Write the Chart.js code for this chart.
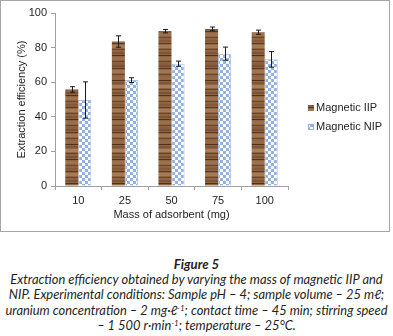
<!DOCTYPE html>
<html><head><meta charset="utf-8">
<script src="https://cdn.jsdelivr.net/npm/chart.js@4.4.0/dist/chart.umd.min.js"></script>
<style>
html,body{margin:0;padding:0;background:#fff;width:393px;height:336px;overflow:hidden}
#frame{position:absolute;left:0;top:0;width:390px;height:232px;border:1px solid #a6a6a6;box-sizing:border-box}
#frame canvas{position:absolute;left:0;top:0}
#cap{position:absolute;left:0;top:257px;width:393px;text-align:center;font-family:Lato,"Open Sans",sans-serif;font-style:italic;color:#231f20;font-size:12.9px;line-height:15.2px;white-space:nowrap}
#cap .t{font-weight:bold;font-size:13.2px}
#cap sup{font-size:8px;line-height:0;vertical-align:4px}
</style></head><body>
<div id="frame"><canvas id="c" width="388" height="230"></canvas></div>
<div id="cap">
<div class="t">Figure 5</div>
<div>Extraction efficiency obtained by varying the mass of magnetic IIP and</div>
<div>NIP. Experimental conditions: Sample pH – 4; sample volume – 25 mℓ;</div>
<div>uranium concentration – 2 mg·ℓ<sup>-1</sup>; contact time – 45 min; stirring speed</div>
<div>– 1 500 r·min<sup>-1</sup>; temperature – 25°C.</div>
</div>
<script>
const categories = ['10', '25', '50', '75', '100'];
const seriesNames = ['Magnetic IIP', 'Magnetic NIP'];
const iipValues = [55.8, 83.5, 89.5, 90.8, 88.9];
const iipErrors = [1.6, 3.3, 1.0, 1.1, 1.2];
const nipValues = [49.7, 61.2, 70.7, 76.5, 73.2];
const nipErrors = [10.5, 1.4, 1.5, 3.8, 4.5];
const yTicks = [0, 20, 40, 60, 80, 100];
const xTitle = 'Mass of adsorbent (mg)';
const yTitle = 'Extraction efficiency (%)';

// textures
function woodPattern(ctx) {
  const c = document.createElement('canvas');
  c.width = 8; c.height = 64;
  const g = c.getContext('2d');
  g.fillStyle = '#8f6443'; g.fillRect(0, 0, 8, 64);
  const stripes = [[0,2,'#7a5033'],[3,1,'#5a3822'],[5,3,'#a27652'],[9,1,'#6e4529'],[12,2,'#946a48'],
    [15,1,'#4f311e'],[17,2,'#80563a'],[20,3,'#a98059'],[24,1,'#664028'],[27,2,'#7c5234'],
    [30,1,'#52331f'],[32,3,'#9d7250'],[36,1,'#70482d'],[39,2,'#86593a'],[42,1,'#5b3923'],
    [44,3,'#a57b55'],[48,1,'#6a432a'],[51,2,'#7e5436'],[54,1,'#4d301d'],[56,3,'#9a6f4c'],
    [60,1,'#694229'],[62,2,'#8a5e3e']];
  stripes.forEach(s => { g.fillStyle = s[2]; g.fillRect(0, s[0], 8, s[1]); });
  return ctx.createPattern(c, 'repeat');
}
function checkPattern(ctx) {
  const c = document.createElement('canvas');
  c.width = 6; c.height = 6;
  const g = c.getContext('2d');
  g.fillStyle = '#ffffff'; g.fillRect(0, 0, 6, 6);
  g.fillStyle = '#93b1e2'; g.fillRect(0, 0, 3, 3); g.fillRect(3, 3, 3, 3);
  return ctx.createPattern(c, 'repeat');
}

const ctx = document.getElementById('c').getContext('2d');
const woodFill = woodPattern(ctx);
const checkFill = checkPattern(ctx);
const FONT = {family: '"Liberation Sans", Arial, sans-serif', size: 11};
const TXT = '#1e1e1e';
const AXIS = '#a0a0a0';

const errorBars = {
  id: 'errorBars',
  afterDatasetsDraw(chart) {
    const g = chart.ctx, ys = chart.scales.y;
    g.save();
    g.strokeStyle = '#1a1a1a'; g.lineWidth = 1;
    chart.data.datasets.forEach((ds, di) => {
      const meta = chart.getDatasetMeta(di);
      meta.data.forEach((bar, i) => {
        const v = ds.data[i], e = ds.errors[i];
        const x = Math.round(bar.x) + 0.5;
        const y1 = ys.getPixelForValue(v + e), y2 = ys.getPixelForValue(v - e);
        g.beginPath();
        g.moveTo(x, y1); g.lineTo(x, y2);
        g.moveTo(x - 2.5, y1); g.lineTo(x + 2.5, y1);
        g.moveTo(x - 2.5, y2); g.lineTo(x + 2.5, y2);
        g.stroke();
      });
    });
    g.restore();
  }
};

const sideLegend = {
  id: 'sideLegend',
  afterDraw(chart) {
    const g = chart.ctx;
    const x0 = chart.chartArea.right + 20;
    const rows = [107, 126];
    g.save();
    g.font = '11px "Liberation Sans", Arial, sans-serif';
    g.textBaseline = 'middle';
    chart.data.datasets.forEach((ds, i) => {
      const y = rows[i];
      g.fillStyle = ds.backgroundColor;
      g.fillRect(x0, y - 3, 6, 6);
      if (i === 1) { g.strokeStyle = '#8fb0e0'; g.lineWidth = 1; g.strokeRect(x0 + 0.5, y - 2.5, 5, 5); }
      g.fillStyle = TXT;
      g.fillText(ds.label, x0 + 8, y);
    });
    g.restore();
  }
};

new Chart(ctx, {
  type: 'bar',
  data: {
    labels: categories,
    datasets: [
      {label: seriesNames[0], data: iipValues, errors: iipErrors, backgroundColor: woodFill, borderWidth: 0},
      {label: seriesNames[1], data: nipValues, errors: nipErrors, backgroundColor: checkFill, borderColor: '#a9c2ec', borderWidth: {left: 1, right: 1, top: 1, bottom: 0}}
    ]
  },
  options: {
    responsive: false,
    animation: false,
    layout: {padding: {top: 12, right: 101, bottom: 0, left: 0}},
    datasets: {bar: {categoryPercentage: 0.56, barPercentage: 1}},
    plugins: {legend: {display: false}, tooltip: {enabled: false}},
    scales: {
      x: {
        grid: {display: true, drawOnChartArea: false, drawTicks: true, tickLength: 4, color: AXIS, offset: true},
        border: {color: AXIS},
        ticks: {font: FONT, color: TXT, padding: 4, maxRotation: 0},
        title: {display: true, text: xTitle, font: FONT, color: TXT, padding: {top: 2, bottom: 9}},
        afterFit(s) { s.height = 45; }
      },
      y: {
        min: 0, max: 100,
        afterBuildTicks(s) { s.ticks = yTicks.map(v => ({value: v})); },
        grid: {display: true, drawOnChartArea: false, drawTicks: true, tickLength: 4, color: AXIS},
        border: {color: AXIS},
        ticks: {font: FONT, color: TXT, padding: 4},
        title: {display: true, text: yTitle, font: FONT, color: TXT, padding: {top: 14, bottom: 0}},
        afterFit(s) { s.width = 54; }
      }
    }
  },
  plugins: [errorBars, sideLegend]
});
</script>
</body></html>
